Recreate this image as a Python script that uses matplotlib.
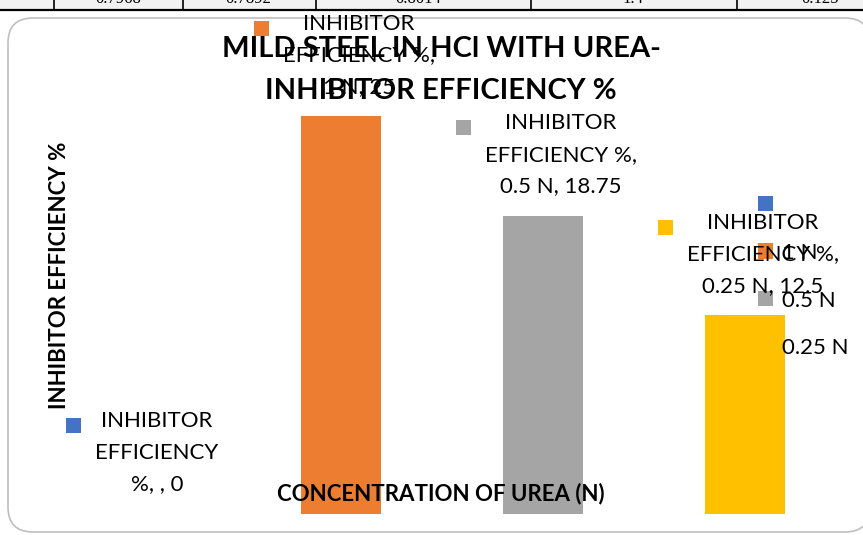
import matplotlib
matplotlib.use("Agg")
import matplotlib.pyplot as plt
from matplotlib.patches import Rectangle, FancyBboxPatch, Patch

plt.rcParams['font.family'] = ['Lato', 'DejaVu Sans']

categories = ['', '1 N', '0.5 N', '0.25 N']
efficiency = [0, 25, 18.75, 12.5]
colors = ['#4472C4', '#ED7D31', '#A5A5A5', '#FFC000']
label_text = ['INHIBITOR\nEFFICIENCY\n%, , 0',
              'INHIBITOR\nEFFICIENCY %,\n1 N, 25',
              'INHIBITOR\nEFFICIENCY %,\n0.5 N, 18.75',
              'INHIBITOR\nEFFICIENCY %,\n0.25 N, 12.5']
table_vals = ['0.7968', '0.7892', '0.8014', '1.4', '0.125']

W, H = 863, 535
fig = plt.figure(figsize=(W / 100, H / 100), dpi=100)

def px(x, y):
    return x / W, 1 - y / H

# strip of the table above the chart
fig.patches.append(Rectangle((0, 1 - 9 / H), 1, 9 / H, transform=fig.transFigure,
                             facecolor='#f2f2f2', edgecolor='none', zorder=-2))
fig.lines.append(plt.Line2D([0, 1], [1 - 9.5 / H] * 2, transform=fig.transFigure,
                            color='black', lw=1.6))
for xl in [54, 183, 316, 531, 737]:
    fig.lines.append(plt.Line2D([xl / W] * 2, [1 - 9 / H, 1], transform=fig.transFigure,
                                color='black', lw=1.2))
for xc, v in zip([118, 248, 418, 633, 820], table_vals):
    fig.text(*px(xc, 3), v, ha='center', va='baseline', fontsize=12,
             family='Liberation Serif')

# rounded chart border
fig.patches.append(FancyBboxPatch((8 / 100, 3 / 100), 862 / 100, 514 / 100,
                                  boxstyle='round,pad=0,rounding_size=0.25',
                                  transform=fig.dpi_scale_trans,
                                  facecolor='white', edgecolor='#bfbfbf', lw=1.2,
                                  zorder=-1))

ax = fig.add_axes([38 / W, 21 / H, (846 - 38) / W, (514 - 37) / H])
ax.patch.set_alpha(0)
xs = range(len(categories))
bars = ax.bar(xs, efficiency, width=0.4, color=colors, zorder=3)
ax.set_xlim(-0.5, 3.5)
ax.set_ylim(0, 30)
ax.axis('off')

fig.canvas.draw()
renderer = fig.canvas.get_renderer()
for i, (v, t, c) in enumerate(zip(efficiency, label_text, colors)):
    ann = ax.annotate(t, (i, v), xytext=(13, 44), textcoords='offset points',
                      ha='center', va='center', fontsize=16, linespacing=1.72,
                      zorder=6)
    bb = ann.get_window_extent(renderer)
    sq = 15
    fig.patches.append(Rectangle((bb.x0 - 14 - sq, bb.y1 - 7 - sq), sq, sq,
                                 transform=None, facecolor=c, edgecolor='none',
                                 zorder=5))

handles = [Patch(facecolor=c) for c in colors]
leg = ax.legend(handles, categories, loc='upper left', bbox_to_anchor=px(758, 195),
                bbox_transform=fig.transFigure, frameon=False, fontsize=16,
                handlelength=0.68, handleheight=0.68, handletextpad=0.4,
                labelspacing=1.25, borderpad=0, borderaxespad=0)
leg.set_zorder(5)

fig.text(*px(441, 70), 'MILD STEEL IN HCl WITH UREA-\nINHIBITOR EFFICIENCY %',
         ha='center', va='center', fontsize=21, fontweight='bold', linespacing=1.75,
         zorder=7)
fig.text(*px(60, 275), 'INHIBITOR EFFICIENCY %', rotation=90, ha='center',
         va='center', fontsize=16, fontweight='bold')
fig.text(*px(441, 494), 'CONCENTRATION OF UREA (N)', ha='center', va='center',
         fontsize=16, fontweight='bold', zorder=7)

fig.savefig('out.png', dpi=100)
